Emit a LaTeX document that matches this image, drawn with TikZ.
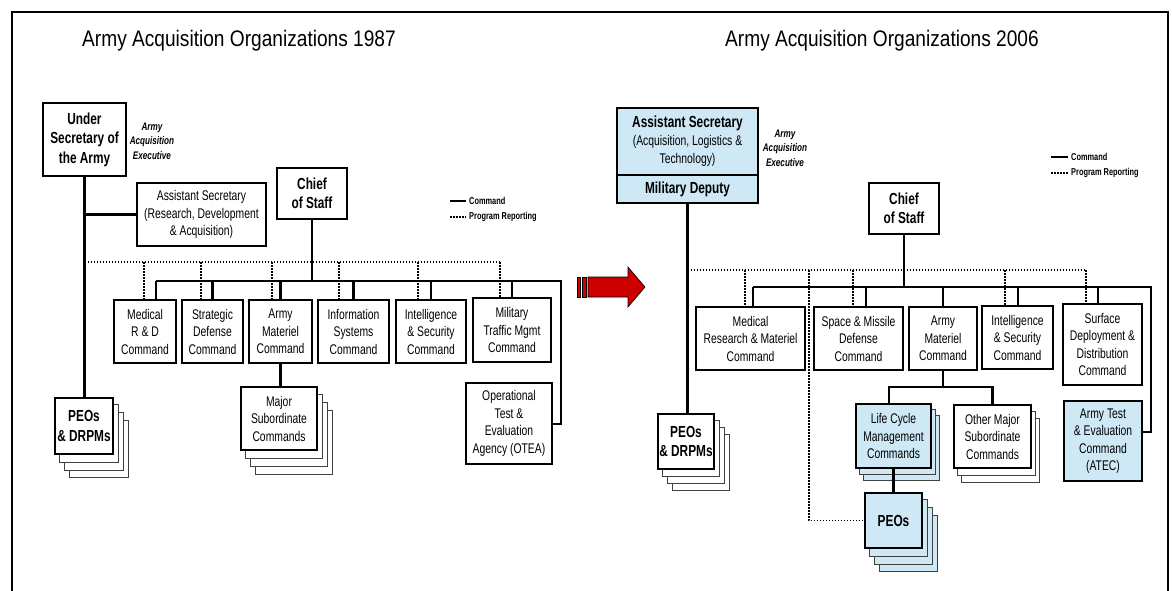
\documentclass[tikz,border=0pt]{standalone}
\usepackage{fontspec}
\setmainfont[FakeStretch=0.74]{Liberation Sans}
\newfontfamily\titlefont[FakeStretch=0.85]{Liberation Sans}
\usetikzlibrary{calc,backgrounds}
\definecolor{paleblue}{HTML}{CFE8F6}
\definecolor{arrowred}{HTML}{CC0000}
\newcommand\stackbacks[5]{%
  \begin{pgfonlayer}{background}
  \foreach \i in {#2,...,1}{%
    \draw[back,fill=#5] ($(#1.north west)+(\i*#3,\i*#4)$) rectangle ($(#1.south east)+(\i*#3,\i*#4)$);}
  \end{pgfonlayer}}
\begin{document}
\begin{tikzpicture}[x=1pt,y=-1pt,
  box/.style={draw=black, line width=1.6pt, fill=white, inner sep=0pt, align=center,
    font=\fontsize{14}{17.5}\selectfont},
  boldbox/.style={box, font=\bfseries\fontsize{16}{19.5}\selectfont},
  cmd/.style={line width=2.4pt},
  prog/.style={line width=1.8pt, dash pattern=on 1.5pt off 1.5pt},
  note/.style={font=\bfseries\itshape\fontsize{11}{14.5}\selectfont, align=center, inner sep=0pt},
  leg/.style={font=\bfseries\fontsize{10}{12}\selectfont, anchor=west, inner sep=0pt},
  title/.style={font=\titlefont\fontsize{22.5}{26}\selectfont, inner sep=0pt},
  back/.style={draw=black!75, line width=0.9pt}
]
\useasboundingbox (0,0) rectangle (1172,590);
\draw[line width=2.5pt] (12,600) -- (12,12) -- (1168,12) -- (1168,600);

% titles
\node[title] (t1) at (239,41) {Army Acquisition Organizations 1987};
\node[title] (t2) at (882,41) {Army Acquisition Organizations 2006};

% ================= 1987 =================
\node[boldbox, minimum width=83, minimum height=73] (usec) at (84.5,139.5) {Under\\Secretary of\\the Army};
\node[note] (aaeL) at (152,141) {Army\\Acquisition\\Executive};
\node[box, minimum width=129, minimum height=63] (asaL) at (201.5,214.5) {Assistant Secretary\\(Research, Development\\\& Acquisition)};
\node[boldbox, minimum width=70, minimum height=51] (csL) at (312,193.5) {Chief\\of Staff};

\coordinate (lgL1) at (450,201); \coordinate (lgL2) at (466,201);
\coordinate (lgL3) at (450,217); \coordinate (lgL4) at (466,217);
\draw[cmd] (lgL1) -- (lgL2);
\draw[prog] (lgL3) -- (lgL4);
\node[leg] (lgLc) at (469,201) {Command};
\node[leg] (lgLp) at (469,217) {Program Reporting};

\node[box, minimum width=62, minimum height=63] (medL) at (145,331.5) {Medical\\R \& D\\Command};
\node[box, minimum width=61, minimum height=63] (sdcL) at (212.5,331.5) {Strategic\\Defense\\Command};
\node[box, minimum width=63, minimum height=63] (amcL) at (280.5,331.5) {Army\\Materiel\\Command};
\node[box, minimum width=71, minimum height=63] (iscL) at (353.5,331.5) {Information\\Systems\\Command};
\node[box, minimum width=70, minimum height=63] (insL) at (431,331.5) {Intelligence\\\& Security\\Command};
\node[box, minimum width=78, minimum height=64] (mtmL) at (512,330) {Military\\Traffic Mgmt\\Command};
\node[box, minimum width=86, minimum height=81] (otea) at (509,423.5) {Operational\\Test \&\\Evaluation\\Agency (OTEA)};
\node[box, minimum width=76, minimum height=63] (mscL) at (279,418.5) {Major\\Subordinate\\Commands};
\node[boldbox, minimum width=58, minimum height=56] (peoL) at (84,426) {PEOs\\\& DRPMs};
\stackbacks{peoL}{3}{5}{7.7}{white}
\stackbacks{mscL}{3}{5}{8}{white}

\draw[cmd] (usec.south) -- (usec.south |- peoL.north);
\coordinate (jL) at (usec.south |- asaL.west);
\draw[cmd] (jL) -- (asaL.west);
\coordinate (bL0) at (156,281); \coordinate (bL1) at (561,281); \coordinate (bL2) at (561,424);
\draw[cmd] (bL0) -- (bL1) -- (bL2) -- (bL2 -| otea.east);
\draw[cmd] (csL.south) -- (csL.south |- bL0);
\foreach \n/\x in {medL/156, sdcL/212.5, amcL/280.5, iscL/353.5, insL/431, mtmL/512}{
  \coordinate (tmp) at (\x,281);
  \draw[cmd] (tmp) -- (tmp |- \n.north);}
\coordinate (dL0) at (84.5,262); \coordinate (dL1) at (500,262);
\draw[prog] (dL0) -- (dL1);
\foreach \n/\x in {medL/144, sdcL/201, amcL/272, iscL/339, insL/418, mtmL/500}{
  \coordinate (tmp) at (\x,262);
  \draw[prog] (tmp) -- (tmp |- \n.north);}
\draw[cmd] (amcL.south) -- (amcL.south |- mscL.north);

% ================= arrow =================
\filldraw[fill=arrowred, draw=black, line width=0.6pt] (577,277) rectangle (580.5,297);
\filldraw[fill=arrowred, draw=black, line width=0.6pt] (582.5,277) rectangle (586,297);
\filldraw[fill=arrowred, draw=black, line width=0.6pt] (588,277) -- (628,277) -- (628,267) -- (645,287) -- (628,307) -- (628,297) -- (588,297) -- cycle;

% ================= 2006 =================
\node[box, fill=paleblue, minimum width=141, minimum height=67, font=\fontsize{14}{18}\selectfont] (asaR) at (687.5,141.5) {{\bfseries\fontsize{16}{19}\selectfont Assistant Secretary}\\(Acquisition, Logistics \&\\Technology)};
\node[boldbox, fill=paleblue, minimum width=141, minimum height=28] (mdR) at (687.5,189) {Military Deputy};
\node[note] (aaeR) at (785,148) {Army\\Acquisition\\Executive};
\node[boldbox, minimum width=70, minimum height=51] (csR) at (904,208.5) {Chief\\of Staff};

\coordinate (lgR1) at (1051,157); \coordinate (lgR2) at (1068,157);
\coordinate (lgR3) at (1051,173); \coordinate (lgR4) at (1068,173);
\draw[cmd] (lgR1) -- (lgR2);
\draw[prog] (lgR3) -- (lgR4);
\node[leg] (lgRc) at (1071,157) {Command};
\node[leg] (lgRp) at (1071,173) {Program Reporting};

\node[box, minimum width=109, minimum height=63] (medR) at (750.5,338.5) {Medical\\Research \& Materiel\\Command};
\node[box, minimum width=89, minimum height=63] (smdR) at (858.5,338.5) {Space \& Missile\\Defense\\Command};
\node[box, minimum width=68, minimum height=63] (amcR) at (943,338.5) {Army\\Materiel\\Command};
\node[box, minimum width=71, minimum height=63] (insR) at (1017.5,337.5) {Intelligence\\\& Security\\Command};
\node[box, minimum width=79, minimum height=81] (sddR) at (1102.5,344.5) {Surface\\Deployment \&\\Distribution\\Command};
\node[box, fill=paleblue, minimum width=75, minimum height=64] (lcmc) at (893.5,436) {Life Cycle\\Management\\Commands};
\node[box, minimum width=77, minimum height=63] (omsc) at (992.5,436.5) {Other Major\\Subordinate\\Commands};
\node[boldbox, fill=paleblue, minimum width=57, minimum height=55] (peos) at (893.5,520.5) {PEOs};
\node[box, fill=paleblue, minimum width=78, minimum height=80] (atec) at (1103,441) {Army Test\\\& Evaluation\\Command\\(ATEC)};
\node[boldbox, minimum width=56, minimum height=55] (peoR) at (686,441.5) {PEOs\\\& DRPMs};
\stackbacks{lcmc}{2}{4}{6}{paleblue}
\stackbacks{omsc}{2}{4}{7}{white}
\stackbacks{peos}{3}{5}{7.7}{paleblue}
\stackbacks{peoR}{3}{5}{7}{white}

\draw[cmd] (mdR.south) -- (mdR.south |- peoR.north);
\coordinate (dR0) at (687.5,270); \coordinate (dR1) at (1086,270);
\draw[prog] (dR0) -- (dR1);
\foreach \n/\x in {medR/745, smdR/853, insR/1005, sddR/1086}{
  \coordinate (tmp) at (\x,270);
  \draw[prog] (tmp) -- (tmp |- \n.north);}
\coordinate (dP) at (809,270);
\draw[prog] (dP) -- (dP |- peos.west) -- (peos.west);
\coordinate (bR0) at (753,287); \coordinate (bR1) at (1151,287); \coordinate (bR2) at (1151,432);
\draw[cmd] (bR0) -- (bR1) -- (bR2) -- (bR2 -| atec.east);
\draw[cmd] (csR.south) -- (csR.south |- bR0);
\foreach \n/\x in {medR/753, smdR/866, amcR/943, insR/1018, sddR/1098}{
  \coordinate (tmp) at (\x,287);
  \draw[cmd] (tmp) -- (tmp |- \n.north);}
\coordinate (sR0) at (889,387); \coordinate (sR1) at (992.5,387);
\draw[cmd] (amcR.south) -- (amcR.south |- sR0);
\draw[cmd] (sR0 |- lcmc.north) -- (sR0) -- (sR1) -- (sR1 |- omsc.north);
\draw[cmd] (lcmc.south) -- (lcmc.south |- peos.north);
\end{tikzpicture}
\end{document}
